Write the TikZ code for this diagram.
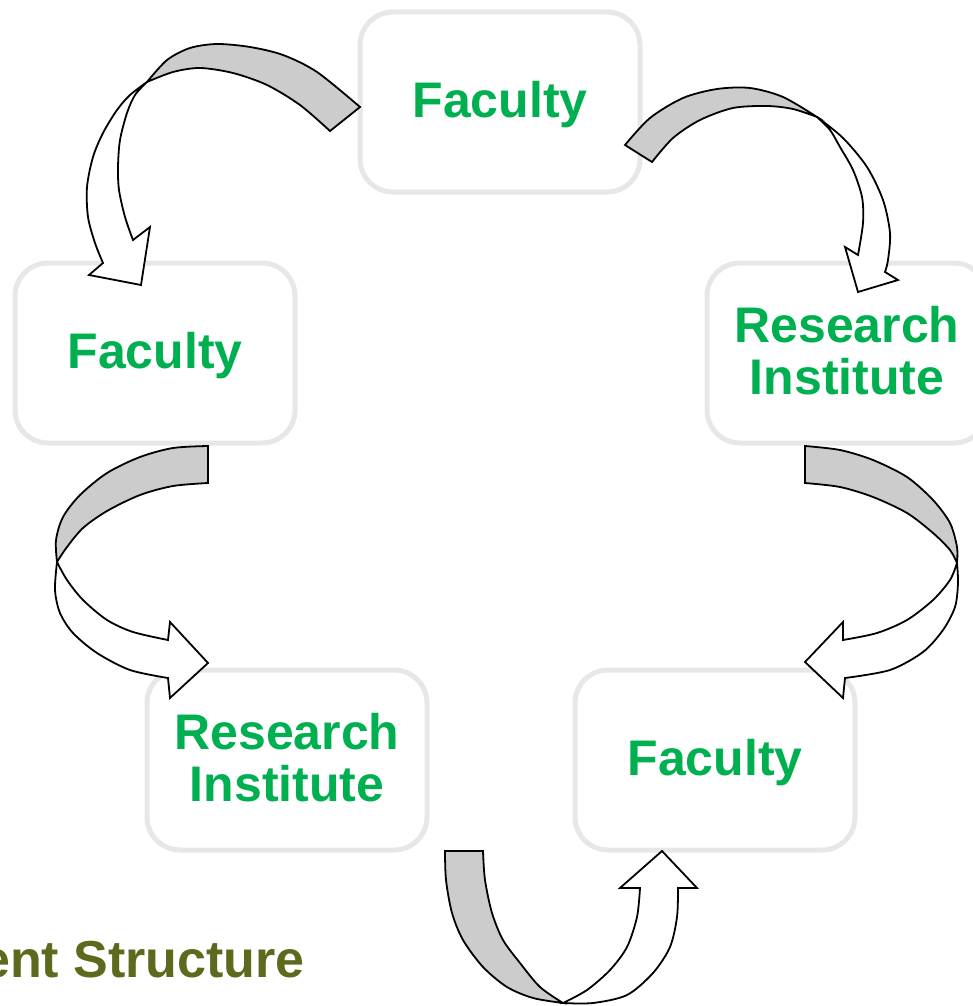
\documentclass[tikz,border=0pt]{standalone}
\usepackage{fontspec}
\setmainfont{Liberation Sans}
\definecolor{boxgray}{HTML}{E7E7E7}
\definecolor{txtgreen}{HTML}{00B050}
\definecolor{olive}{HTML}{5B6A1C}
\definecolor{bandgray}{HTML}{CCCCCC}
\begin{document}
\begin{tikzpicture}[x=1pt,y=-1pt,
  boxst/.style={draw=boxgray,line width=5pt,rounded corners=33pt,fill=white,
    minimum width=280pt,minimum height=180pt,inner sep=0pt},
  txt/.style={font=\fontsize{50}{52}\selectfont\bfseries,text=txtgreen,align=center,inner sep=0pt},
  back/.style={draw=black,line width=1.8pt,fill=bandgray,line join=miter},
  front/.style={draw=black,line width=1.8pt,fill=white,line join=miter}]
\useasboundingbox (0,0) rectangle (973,1006);

% boxes
\node[boxst] (b1) at (500,102) {};
\node[boxst] (b2) at (155,353) {};
\node[boxst] (b3) at (847,353) {};
\node[boxst] (b4) at (287,760) {};
\node[boxst] (b5) at (715,760) {};

\node[txt] (t1) at ([yshift=-3pt]b1.center) {Faculty};
\node[txt] (t2) at ([yshift=-3pt]b2.center) {Faculty};
\node[txt] (t3) at ([yshift=2pt]b3.center) {Research\\Institute};
\node[txt] (t4) at ([yshift=2pt]b4.center) {Research\\Institute};
\node[txt] (t5) at ([yshift=-3pt]b5.center) {Faculty};

% arrow 1: top box -> left box
\path[back] plot[smooth] coordinates {(360,107) (317,72) (283,55) (250,47) (217,44) (190,48) (167,60) (147,82)}
  -- plot[smooth] coordinates {(147,82) (173,72) (200,68) (233,73) (267,85) (300,105) (330,131)} -- cycle;
\path[front] plot[smooth] coordinates {(147,82) (130,95) (117,110) (103,133) (93,157) (87,187) (88,217) (95,243) (103,263)}
  -- (89,275) -- (141,285) -- (150,227)
  -- plot[smooth] coordinates {(133,240) (125,217) (119,190) (118,167) (120,140) (127,113) (135,95) (147,82)} -- cycle;

% arrow 2: top box -> right box
\path[back] plot[smooth] coordinates {(625,145) (650,118) (683,98) (717,89) (750,88) (783,97) (817,117)}
  -- plot[smooth] coordinates {(817,117) (793,109) (767,106) (733,108) (700,120) (673,138) (652,162)} -- cycle;
\path[front] plot[smooth] coordinates {(817,117) (843,138) (867,167) (883,200) (890,233) (888,260) (885,272)}
  -- (898,280) -- (858,292) -- (845,247)
  -- plot[smooth] coordinates {(858,255) (863,223) (862,197) (853,170) (840,147) (830,130) (817,117)} -- cycle;

% arrow 3: left box -> bottom-left box
\path[back] plot[smooth] coordinates {(208,446) (173,448) (140,457) (107,473) (80,495) (63,517) (56,540) (57,562)}
  -- plot[smooth] coordinates {(57,562) (67,547) (83,528) (107,511) (140,495) (173,486) (208,483)} -- cycle;
\path[front] plot[smooth] coordinates {(57,562) (55,590) (60,613) (73,633) (97,653) (130,670) (168,678)}
  -- (170,698) -- (208,663) -- (170,622)
  -- plot[smooth] coordinates {(168,640) (133,632) (107,620) (83,600) (67,580) (57,562)} -- cycle;

% arrow 4: right box -> bottom-right box
\path[back] plot[smooth] coordinates {(805,446) (840,450) (873,460) (907,477) (933,500) (950,523) (957,547) (957,563)}
  -- plot[smooth] coordinates {(957,563) (950,550) (933,533) (907,513) (873,497) (840,487) (805,483)} -- cycle;
\path[front] plot[smooth] coordinates {(957,563) (958,583) (955,607) (943,630) (923,652) (890,670) (845,678)}
  -- (843,698) -- (805,662) -- (843,622)
  -- plot[smooth] coordinates {(843,640) (877,633) (907,620) (933,600) (950,580) (957,563)} -- cycle;

% arrow 5: bottom-left box -> bottom-right box
\path[back] plot[smooth] coordinates {(445,851) (446,880) (452,913) (463,940) (483,967) (507,987) (533,998) (563,1003)}
  -- plot[smooth] coordinates {(563,1003) (540,987) (520,963) (503,940) (492,913) (485,880) (483,851)} -- cycle;
\path[front] plot[smooth] coordinates {(563,1003) (593,1003) (627,995) (653,973) (670,947) (677,917) (678,888)}
  -- (697,888) -- (662,851) -- (620,888)
  -- plot[smooth] coordinates {(640,888) (637,917) (627,947) (610,970) (587,990) (563,1003)} -- cycle;

% bottom title (cut at left edge, as in the reference)
\node[anchor=base east,inner sep=0pt,font=\fontsize{52}{56}\selectfont\bfseries,text=olive] (title) at (305,977) {ent Structure};
\end{tikzpicture}
\end{document}
